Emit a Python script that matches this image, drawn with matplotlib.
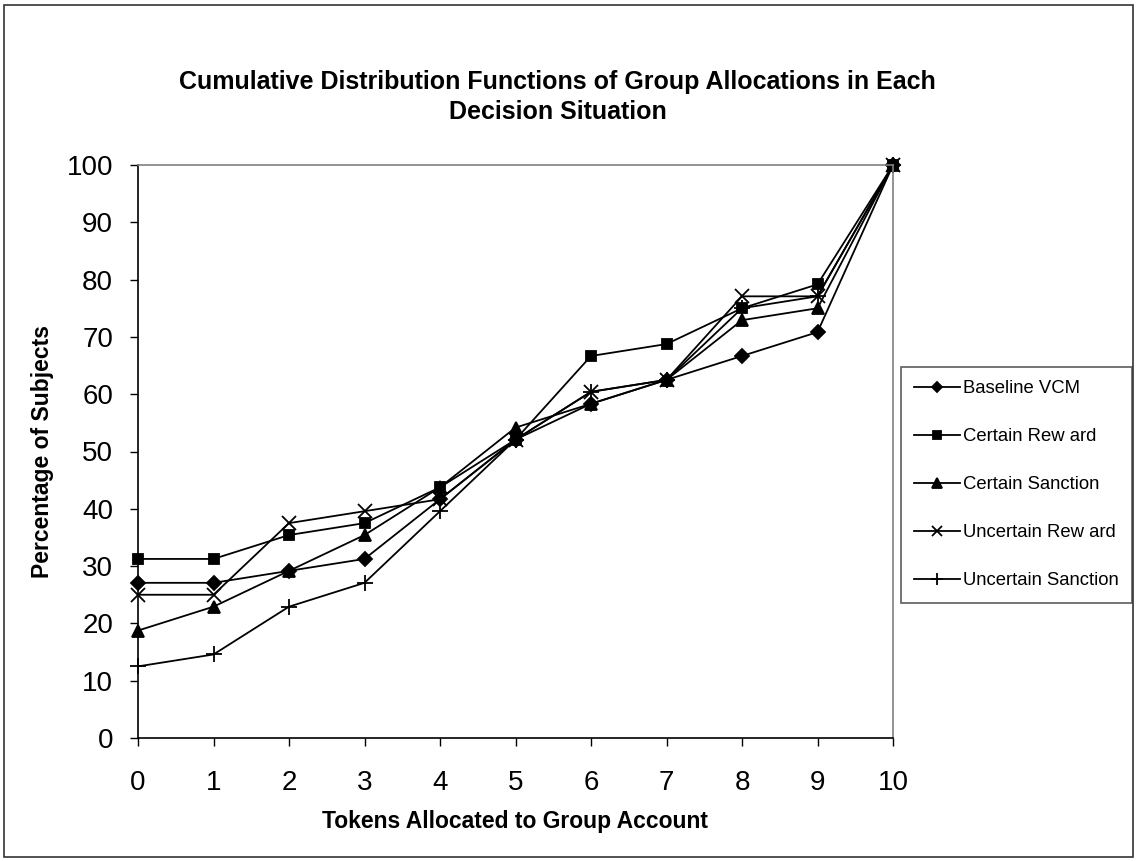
import matplotlib
matplotlib.use("Agg")
import matplotlib.pyplot as plt
from matplotlib.patches import Rectangle

plt.rcParams['font.family'] = ['Liberation Sans', 'DejaVu Sans']

tokens = [0, 1, 2, 3, 4, 5, 6, 7, 8, 9, 10]
baseline_vcm = [27.08, 27.08, 29.17, 31.25, 41.67, 52.08, 58.33, 62.50, 66.67, 70.83, 100.0]
certain_reward = [31.25, 31.25, 35.42, 37.50, 43.75, 52.08, 66.67, 68.75, 75.00, 79.17, 100.0]
certain_sanction = [18.75, 22.92, 29.17, 35.42, 43.75, 54.17, 58.33, 62.50, 72.92, 75.00, 100.0]
uncertain_reward = [25.00, 25.00, 37.50, 39.58, 41.67, 52.08, 60.42, 62.50, 77.08, 77.08, 100.0]
uncertain_sanction = [12.50, 14.58, 22.92, 27.08, 39.58, 52.08, 60.42, 62.50, 75.00, 77.08, 100.0]

series_labels = ["Baseline VCM", "Certain Rew ard", "Certain Sanction",
                 "Uncertain Rew ard", "Uncertain Sanction"]
series_values = [baseline_vcm, certain_reward, certain_sanction,
                 uncertain_reward, uncertain_sanction]
series_markers = ["D", "s", "^", "x", "+"]
series_msizes = [7, 7.5, 8.5, 9.5, 11]

W, H = 1138, 861
fig = plt.figure(figsize=(W / 100, H / 100), dpi=100)
fig.patch.set_facecolor("white")

# outer frame around the whole chart
fig.patches.append(Rectangle((4 / W, 4 / H), (W - 9) / W, (H - 9) / H,
                             transform=fig.transFigure, fill=False,
                             edgecolor="#333333", linewidth=1.2))

ax = fig.add_axes([138 / W, 1 - 738 / H, (893 - 138) / W, (738 - 165) / H])

lines = []
for vals, lab, mk, ms in zip(series_values, series_labels, series_markers, series_msizes):
    ln, = ax.plot(tokens, vals, color="black", linewidth=1.3, marker=mk,
                  markersize=ms, markerfacecolor="black", markeredgecolor="black",
                  markeredgewidth=1.3, label=lab, clip_on=False)
    lines.append(ln)

ax.set_xlim(0, 10)
ax.set_ylim(0, 100)
ax.set_xticks(tokens)
ax.set_yticks(range(0, 101, 10))
ax.tick_params(axis="both", direction="out", length=6, width=1, labelsize=20,
               color="black")
ax.tick_params(axis="x", pad=17)
ax.tick_params(axis="y", pad=12)

for side in ("top", "right"):
    ax.spines[side].set_color("#808080")
    ax.spines[side].set_linewidth(1.2)
for side in ("left", "bottom"):
    ax.spines[side].set_color("black")
    ax.spines[side].set_linewidth(1.2)

ax.set_xlabel("Tokens Allocated to Group Account", fontsize=16.5, fontweight="bold",
              labelpad=10)
ax.set_ylabel("Percentage of Subjects", fontsize=16.5, fontweight="bold", labelpad=9)

fig.text(0.49, 1 - 97 / H,
         "Cumulative Distribution Functions of Group Allocations in Each\nDecision Situation",
         ha="center", va="center", fontsize=18, fontweight="bold", linespacing=1.3)

leg = fig.legend(handles=lines, loc="upper left",
                 bbox_to_anchor=(901 / W, 1 - 367 / H), borderaxespad=0,
                 fontsize=13.3, frameon=True, fancybox=False, handlelength=2.5,
                 handletextpad=0.15, labelspacing=1.68, borderpad=0.72,
                 markerscale=0.8)
leg.get_frame().set_edgecolor("#333333")
leg.get_frame().set_linewidth(1.2)

fig.savefig("out.png", dpi=100, facecolor="white")
